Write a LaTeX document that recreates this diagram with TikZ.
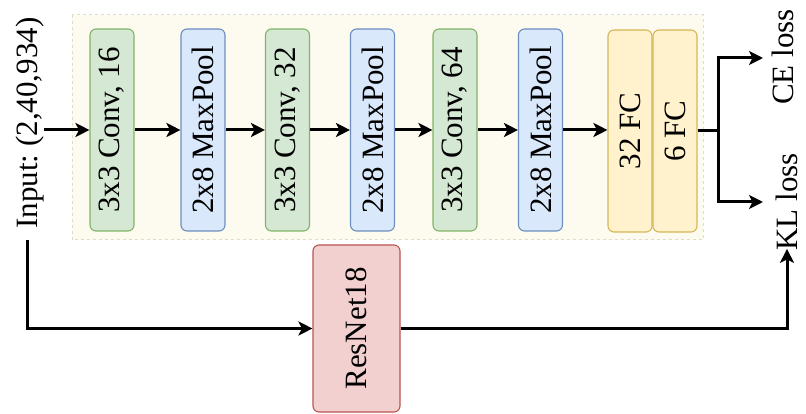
\documentclass[tikz,border=0pt]{standalone}
\usepackage{fontspec}
\setmainfont{Liberation Serif}
\newfontfamily\tnr{Liberation Serif}
\usetikzlibrary{arrows.meta}
\definecolor{gfill}{HTML}{D5E8D4}\definecolor{gline}{HTML}{82B366}
\definecolor{bfill}{HTML}{DAE8FC}\definecolor{bline}{HTML}{6C8EBF}
\definecolor{yfill}{HTML}{FFF2CC}\definecolor{yline}{HTML}{D6B656}
\definecolor{rfill}{HTML}{F3D0D0}\definecolor{rline}{HTML}{B85450}
\definecolor{bgfill}{HTML}{FDFBEF}\definecolor{bgline}{HTML}{E0DCC8}
\frenchspacing
\begin{document}
\begin{tikzpicture}[x=1pt,y=-1pt,
  font=\tnr\fontsize{31}{37}\selectfont,
  blk/.style={rounded corners=6pt, line width=1.1pt, minimum width=44pt, minimum height=202pt, inner sep=0pt},
  conv/.style={blk, fill=gfill, draw=gline},
  pool/.style={blk, fill=bfill, draw=bline},
  fc/.style={blk, fill=yfill, draw=yline},
  lbl/.style={inner sep=0pt},
  conn/.style={line width=3pt, -{Stealth[length=14pt,width=14pt,inset=3.5pt]}},
  plain/.style={line width=3pt}]
\useasboundingbox (0,0) rectangle (806,414);
\fill[white] (0,0) rectangle (806,414);
% background group
\draw[fill=bgfill, draw=bgline, dashed, line width=1pt] (72,15) rectangle (703,240);
\node[lbl] (inp) at (30,123) {\rotatebox{90}{Input: (2,40,934)}};
\node[conv] (c1) at (112,130) {\rotatebox{90}{3x3 Conv, 16}};
\node[pool] (p1) at (203,130) {\rotatebox{90}{2x8 MaxPool}};
\node[conv] (c2) at (287.5,130) {\rotatebox{90}{3x3 Conv, 32}};
\node[pool] (p2) at (372.5,130) {\rotatebox{90}{2x8 MaxPool}};
\node[conv] (c3) at (455,130) {\rotatebox{90}{3x3 Conv, 64}};
\node[pool] (p3) at (540.5,130) {\rotatebox{90}{2x8 MaxPool}};
\node[fc] (f1) at (630,131) {\rotatebox{90}{32 FC}};
\node[fc] (f2) at (675,131) {\rotatebox{90}{6 FC}};
\node[blk, fill=rfill, draw=rline, minimum width=87pt, minimum height=167pt] (res) at (356.5,328.5) {\rotatebox{90}{ResNet18}};
\node[lbl] (ce) at (783,57) {\rotatebox{90}{CE loss}};
\node[lbl] (kl) at (787,202) {\rotatebox{90}{KL loss}};
\coordinate (split) at (718,131);
\coordinate (ceend) at (763,58);
\coordinate (klend) at (763,202);
\coordinate (src) at (27,240);
% chain arrows
\draw[conn] (inp.east |- c1.west) -- (c1.west);
\draw[conn] (c1) -- (p1);
\draw[conn] (p1) -- (c2);
\draw[conn] (c2) -- (p2);
\draw[conn] (p2) -- (c3);
\draw[conn] (c3) -- (p3);
\draw[conn] (p3.east) -- (f1.west |- p3.east);
% outputs
\draw[plain] (f2.east |- split) -- (split);
\draw[conn] (split) |- (ceend);
\draw[conn] (split) |- (klend);
% resnet branch
\draw[conn] (src) |- (res.west);
\draw[conn] (res.east) -| ([yshift=2pt]kl.south);
\end{tikzpicture}
\end{document}
